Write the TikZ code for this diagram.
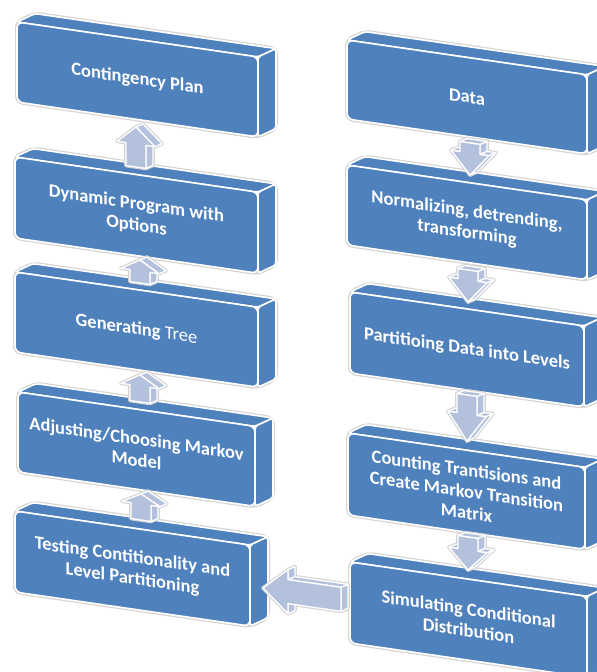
\documentclass[tikz,border=0pt]{standalone}
\usepackage{fontspec}
\setmainfont{Carlito}
\definecolor{boxblue}{RGB}{79,129,189}
\definecolor{arrowblue}{RGB}{180,193,221}
\definecolor{glow}{RGB}{212,212,212}

% One 3-D slab: name, x, y (front top-left corner), width, height, text
\newcommand\slab[6]{%
  \begin{scope}[shift={(#2,#3)}, yslant=-0.145]
    \draw[halo] (0,0) -- (18,-11) -- (#4+18,-11) -- (#4+18,#5-11) -- (#4,#5) -- (0,#5) -- cycle;
    \filldraw[face, rounded corners=3pt] (0,0) -- (18,-11) -- (#4+18,-11) -- (#4,0) -- cycle;
    \filldraw[face, rounded corners=3pt] (#4,0) -- (#4+18,-11) -- (#4+18,#5-11) -- (#4,#5) -- cycle;
    \filldraw[face, rounded corners=6pt] (0,0) rectangle (#4,#5);
    \node[boxtext] (#1) at (#4/2,#5/2) {#6};
  \end{scope}}

% Block arrow pointing up: style, shoulder depth, base depth
\newcommand\upfaces[3]{%
  \path[#1] (10,#2) -- (10,#3) -- (17,#3-4) -- (17,#2-4) -- cycle;
  \path[#1] (0,0) -- (19,#2) -- (26,#2-4) -- (7,-4) -- cycle;
  \path[#1] (0,0) -- (19,#2) -- (10,#2) -- (10,#3) -- (-10,#3) -- (-10,#2) -- (-19,#2) -- cycle;}
\newcommand\arrUp[4]{%
  \begin{scope}[shift={(#1,#2)}, yslant=-0.145]
    \upfaces{arrhalo}{#3}{#4}
    \upfaces{arrface}{#3}{#4}
  \end{scope}}

% Block arrow pointing down: style, shoulder height, tail height
\newcommand\downfaces[3]{%
  \path[#1] (-19,-#2) -- (-10,-#2) -- (-3,-#2-4) -- (-12,-#2-4) -- cycle;
  \path[#1] (10,-#3) -- (10,-#2) -- (17,-#2-4) -- (17,-#3-4) -- cycle;
  \path[#1] (10,-#2) -- (19,-#2) -- (26,-#2-4) -- (17,-#2-4) -- cycle;
  \path[#1] (0,0) -- (19,-#2) -- (26,-#2-4) -- (7,-4) -- cycle;
  \path[#1] (-10,-#3) -- (10,-#3) -- (17,-#3-4) -- (-3,-#3-4) -- cycle;
  \path[#1] (0,0) -- (-19,-#2) -- (-10,-#2) -- (-10,-#3) -- (10,-#3) -- (10,-#2) -- (19,-#2) -- cycle;}
\newcommand\arrDown[4]{%
  \begin{scope}[shift={(#1,#2)}, yslant=-0.145]
    \downfaces{arrhalo}{#3}{#4}
    \downfaces{arrface}{#3}{#4}
  \end{scope}}

% Block arrow pointing left
\newcommand\leftfaces[1]{%
  \path[#1] (25,-22) -- (25,-12) -- (32,-16) -- (32,-26) -- cycle;
  \path[#1] (25,12) -- (25,22) -- (32,18) -- (32,8) -- cycle;
  \path[#1] (25,-12) -- (78,-12) -- (85,-16) -- (32,-16) -- cycle;
  \path[#1] (78,-12) -- (78,12) -- (85,8) -- (85,-16) -- cycle;
  \path[#1] (0,0) -- (25,-22) -- (25,-12) -- (78,-12) -- (78,12) -- (25,12) -- (25,22) -- cycle;}
\newcommand\arrLeft[2]{%
  \begin{scope}[shift={(#1,#2)}, yslant=-0.145]
    \leftfaces{arrhalo}
    \leftfaces{arrface}
  \end{scope}}

\begin{document}
\begin{tikzpicture}[x=1pt, y=-1pt,
  face/.style={fill=boxblue, draw=white, line width=1.6pt, line join=round},
  halo/.style={draw=glow, line width=4pt, line join=round, rounded corners=6pt},
  boxtext/.style={text=white, font=\bfseries\fontsize{18.5}{21.5}\selectfont,
    align=center, transform shape, inner sep=0pt},
  arrface/.style={fill=arrowblue, draw=white, line width=1.3pt, line join=round},
  arrhalo/.style={draw=glow, line width=3.6pt, line join=round}]
\useasboundingbox (0,0) rectangle (597,672);
\clip (0,0) rectangle (597,672);

% left column, read bottom to top
\slab{plan}{17}{22}{241}{80}{Contingency Plan}
\slab{dynprog}{15}{157}{243}{81}{Dynamic Program with\\Options}
\slab{tree}{15}{272}{243}{80}{Generating {\mdseries Tree}}
\slab{markov}{18}{392}{237}{80}{Adjusting/Choosing Markov\\Model}
\slab{testing}{15}{511}{235}{81}{Testing Contitionality and\\Level Partitioning}

% right column, read top to bottom
\slab{data}{347}{40}{240}{79}{Data}
\slab{normalize}{347}{165}{240}{80}{Normalizing, detrending,\\transforming}
\slab{partition}{350}{292}{234}{81}{Partitioing Data into Levels}
\slab{counting}{348}{433}{237}{82}{Counting Trantisions and\\Create Markov Transition\\Matrix}
\slab{simulate}{350}{562}{237}{81}{Simulating Conditional\\Distribution}

% flow arrows
\arrDown{470}{175}{22}{32}
\arrDown{468}{302}{22}{32}
\arrDown{467}{441}{27}{46}
\arrDown{468}{570}{20}{33}
\arrLeft{263}{588}
\arrUp{141}{494}{10}{26}
\arrUp{140}{375}{11}{27}
\arrUp{140}{260}{11}{23}
\arrUp{136}{127}{17}{40}
\end{tikzpicture}
\end{document}
